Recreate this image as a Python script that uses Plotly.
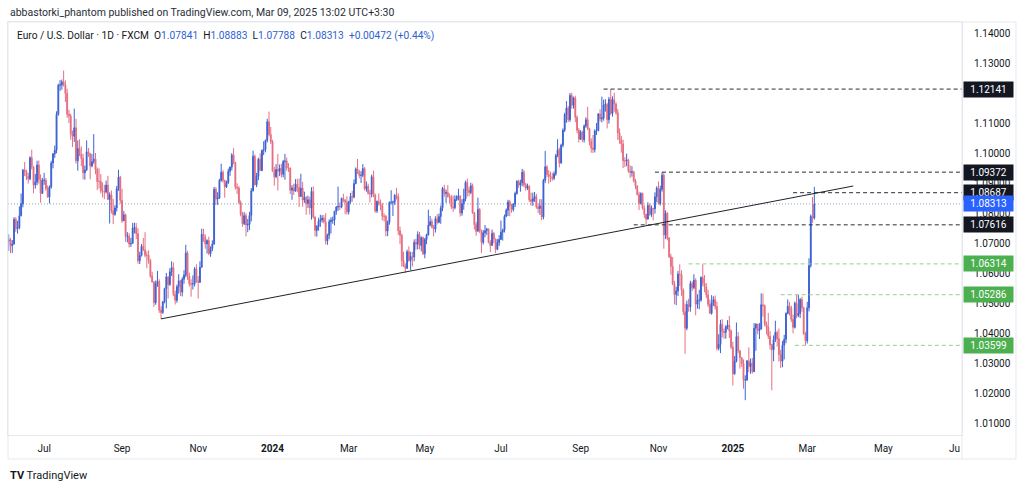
import plotly.graph_objects as go
import pandas as pd

# ---------------- data (EUR/USD daily, FXCM) ----------------
# values in 1/10000 above 1.0000  (e.g. 712 -> 1.0712), one row per trading week
FIRST_OPEN = 708
CLOSE = [
    712, 692, 698, 780, 749,
    752, 792, 832, 944, 939,
    923, 915, 985, 955, 894,
    904, 961, 913, 866, 910,
    910, 883, 854, 888, 968,
    998, 1010, 1130, 1227, 1228,
    1238, 1228, 1200, 1130, 1124,
    1064, 1057, 1085, 975, 1016,
    998, 983, 935, 944, 1005,
    1000, 958, 972, 981, 946,
    906, 906, 874, 873, 871,
    894, 846, 862, 808, 796,
    818, 882, 921, 843, 775,
    795, 723, 724, 698, 700,
    751, 753, 732, 642, 659,
    690, 678, 660, 660, 643,
    591, 571, 502, 565, 573,
    477, 469, 505, 549, 588,
    563, 605, 619, 530, 510,
    555, 575, 537, 580, 594,
    668, 590, 565, 564, 565,
    615, 575, 570, 620, 730,
    720, 698, 709, 666, 683,
    698, 880, 848, 851, 910,
    937, 910, 888, 902, 940,
    954, 994, 970, 887, 884,
    836, 796, 765, 792, 761,
    763, 793, 875, 990, 895,
    923, 980, 943, 1010, 1013,
    1043, 1105, 1063, 1038,
    940, 922, 946, 940,
    950, 930, 972, 974, 951,
    951, 877, 884, 874, 897,
    886, 856, 884, 844, 853,
    833, 845, 818, 873, 788,
    743, 756, 773, 778, 784,
    772, 708, 727, 772, 777,
    778, 807, 821, 823, 821,
    850, 844, 837, 805, 839,
    856, 854, 899, 948, 938,
    926, 927, 949, 882, 890,
    867, 865, 922, 860, 808,
    839, 832, 826, 790, 790,
    741, 770, 836, 837, 837,
    860, 856, 742, 727, 642,
    624, 617, 672, 643, 656,
    654, 703, 697, 729, 693,
    719, 665, 713, 728, 760,
    772, 753, 748, 782, 770,
    789, 817, 883, 866, 869,
    856, 855, 822, 819, 846,
    856, 858, 801, 832, 848,
    903, 877, 869, 892, 801,
    762, 740, 813, 740, 703,
    735, 742, 748, 703, 693,
    733, 714, 680, 702, 713,
    737, 744, 790, 810, 838,
    826, 813, 830, 866, 907,
    894, 902, 937, 895, 884,
    890, 845, 840, 849, 856,
    821, 816, 825, 788, 910,
    955, 930, 923, 920, 917,
    932, 992, 1012, 967, 1027,
    1077, 1129, 1151, 1112, 1193,
    1160, 1184, 1120, 1077, 1047,
    1071, 1045, 1091, 1112, 1082,
    1040, 1017, 1013, 1075, 1075,
    1131, 1115, 1118, 1161, 1163,
    1112, 1180, 1133, 1179, 1164,
    1135, 1068, 1045, 1031, 975,
    975, 978, 941, 936, 938,
    908, 891, 862, 833, 866,
    817, 796, 781, 826, 796,
    816, 815, 855, 884, 833,
    880, 927, 728, 800, 718,
    655, 623, 565, 529, 541,
    597, 596, 544, 472, 417,
    496, 488, 566, 552, 577,
    497, 510, 511, 586, 567,
    554, 528, 496, 467, 502,
    512, 489, 350, 363, 430,
    406, 403, 422, 427,
    408, 354, 265, 307,
    389, 341, 319, 299, 244,
    245, 308, 289, 301, 272,
    417, 431, 409, 414, 495,
    492, 430, 421, 390, 362,
    345, 379, 403, 382, 329,
    307, 360, 380, 466, 490,
    484, 446, 420, 500, 459,
    466, 513, 485, 398, 375,
    485, 626, 790, 784, 831,
]
HIGH = [
    730, 718, 711, 787, 787,
    775, 823, 866, 948, 971,
    945, 935, 990, 1012, 956,
    931, 975, 976, 930, 918,
    935, 918, 893, 893, 975,
    1001, 1026, 1140, 1232, 1244,
    1246, 1276, 1243, 1215, 1145,
    1132, 1076, 1149, 1115, 1043,
    1047, 1023, 998, 959, 1043,
    1018, 1000, 998, 1064, 1001,
    953, 950, 931, 903, 895,
    909, 925, 870, 876, 848,
    827, 891, 945, 925, 882,
    808, 799, 737, 734, 718,
    768, 769, 768, 750, 672,
    698, 718, 737, 673, 677,
    648, 605, 574, 576, 608,
    580, 490, 508, 552, 601,
    590, 617, 640, 636, 542,
    562, 597, 578, 587, 610,
    695, 675, 602, 580, 593,
    621, 630, 591, 640, 749,
    748, 730, 713, 722, 690,
    710, 888, 887, 870, 915,
    965, 944, 912, 909, 949,
    956, 1001, 1017, 970, 900,
    891, 843, 805, 804, 800,
    781, 805, 884, 1009, 996,
    935, 985, 1000, 1012, 1040,
    1046, 1115, 1139, 1088,
    1045, 955, 964, 998,
    963, 965, 978, 998, 986,
    967, 953, 894, 899, 914,
    915, 916, 932, 905, 872,
    857, 859, 855, 887, 890,
    789, 761, 785, 795, 794,
    794, 800, 732, 780, 787,
    789, 808, 824, 889, 836,
    852, 865, 847, 857, 842,
    868, 875, 913, 953, 981,
    945, 941, 964, 954, 906,
    899, 878, 929, 942, 866,
    843, 866, 846, 835, 800,
    794, 776, 840, 877, 842,
    864, 885, 867, 756, 732,
    672, 633, 679, 690, 672,
    671, 713, 715, 740, 738,
    723, 722, 718, 732, 812,
    791, 782, 761, 790, 797,
    799, 826, 888, 895, 879,
    894, 866, 861, 859, 860,
    860, 882, 860, 847, 882,
    909, 916, 889, 902, 899,
    805, 771, 852, 818, 746,
    744, 761, 752, 749, 710,
    746, 738, 716, 714, 727,
    776, 749, 796, 816, 845,
    845, 832, 834, 872, 910,
    912, 912, 948, 945, 902,
    899, 894, 869, 869, 871,
    865, 834, 847, 847, 915,
    1008, 960, 944, 939, 935,
    940, 998, 1047, 1019, 1032,
    1083, 1135, 1174, 1158, 1201,
    1202, 1189, 1192, 1126, 1084,
    1077, 1075, 1096, 1120, 1155,
    1085, 1050, 1061, 1080, 1101,
    1134, 1147, 1189, 1179, 1180,
    1168, 1188, 1214, 1190, 1202,
    1170, 1148, 1083, 1058, 1045,
    987, 999, 982, 960, 957,
    942, 915, 893, 872, 870,
    869, 826, 799, 837, 833,
    826, 819, 870, 890, 906,
    892, 937, 934, 810, 804,
    720, 665, 654, 575, 555,
    608, 630, 610, 550, 499,
    509, 515, 575, 573, 597,
    583, 530, 545, 590, 630,
    594, 567, 545, 513, 527,
    523, 526, 506, 397, 445,
    447, 416, 427, 444,
    458, 413, 372, 324,
    436, 404, 345, 320, 313,
    260, 311, 353, 316, 318,
    434, 433, 431, 434, 533,
    533, 496, 439, 468, 407,
    365, 393, 442, 409, 416,
    345, 375, 395, 470, 513,
    505, 492, 462, 506, 528,
    528, 517, 522, 489, 405,
    505, 650, 796, 854, 888,
]
LOW = [
    675, 667, 668, 695, 738,
    732, 747, 790, 820, 924,
    911, 899, 910, 946, 867,
    882, 894, 899, 835, 866,
    895, 875, 852, 833, 882,
    950, 985, 1000, 1125, 1208,
    1212, 1222, 1171, 1118, 1101,
    1045, 1021, 1038, 966, 942,
    990, 957, 913, 912, 942,
    988, 913, 953, 965, 930,
    877, 883, 866, 853, 847,
    866, 846, 766, 799, 764,
    792, 806, 875, 832, 768,
    774, 705, 703, 686, 688,
    700, 733, 714, 632, 631,
    656, 674, 653, 617, 632,
    585, 569, 488, 495, 555,
    468, 448, 465, 500, 483,
    516, 558, 591, 524, 496,
    502, 532, 524, 523, 565,
    587, 578, 556, 522, 546,
    556, 568, 516, 568, 620,
    705, 682, 666, 660, 655,
    674, 695, 828, 828, 848,
    905, 902, 852, 885, 898,
    925, 943, 963, 879, 864,
    830, 790, 755, 761, 723,
    737, 744, 773, 873, 893,
    887, 910, 941, 940, 994,
    1003, 1036, 1057, 1031,
    939, 892, 917, 876,
    924, 919, 920, 912, 942,
    938, 864, 845, 861, 872,
    870, 821, 855, 822, 835,
    795, 818, 796, 779, 782,
    723, 722, 742, 755, 769,
    766, 696, 695, 714, 733,
    765, 760, 795, 808, 811,
    817, 837, 797, 796, 796,
    832, 838, 850, 897, 931,
    917, 901, 920, 876, 872,
    862, 836, 853, 854, 802,
    801, 826, 810, 776, 773,
    723, 724, 762, 829, 791,
    828, 846, 728, 697, 622,
    621, 601, 614, 638, 610,
    623, 640, 678, 680, 680,
    673, 661, 650, 697, 726,
    757, 750, 723, 736, 763,
    767, 765, 807, 855, 835,
    852, 834, 814, 805, 813,
    841, 843, 789, 792, 812,
    840, 856, 857, 864, 798,
    746, 725, 740, 734, 668,
    696, 720, 728, 700, 671,
    692, 700, 667, 677, 691,
    712, 709, 736, 787, 791,
    790, 802, 806, 821, 862,
    885, 872, 890, 887, 875,
    878, 838, 826, 825, 838,
    815, 801, 795, 777, 780,
    901, 920, 899, 904, 908,
    911, 925, 987, 953, 967,
    1020, 1071, 1102, 1104, 1105,
    1149, 1149, 1104, 1067, 1036,
    1045, 1037, 1036, 1085, 1077,
    1026, 1002, 1001, 1003, 1061,
    1074, 1106, 1103, 1109, 1139,
    1083, 1099, 1128, 1122, 1139,
    1128, 1045, 1032, 1002, 951,
    954, 957, 935, 917, 922,
    903, 880, 860, 811, 829,
    812, 784, 761, 779, 792,
    788, 776, 799, 837, 829,
    826, 872, 682, 714, 710,
    651, 595, 560, 497, 494,
    524, 557, 525, 461, 332,
    410, 472, 472, 541, 547,
    460, 482, 480, 505, 557,
    537, 517, 487, 464, 462,
    491, 479, 343, 343, 334,
    386, 382, 382, 413,
    384, 347, 226, 262,
    303, 333, 282, 288, 215,
    177, 241, 270, 265, 266,
    272, 342, 397, 381, 413,
    456, 423, 396, 381, 346,
    210, 307, 371, 356, 306,
    284, 287, 313, 367, 463,
    459, 437, 400, 416, 450,
    454, 451, 472, 395, 360,
    366, 473, 619, 768, 779,
]
START_DATE = "2023-06-05"
END_DATE = "2025-03-07"
HOLIDAYS = ["2023-12-25", "2024-01-01", "2024-12-25", "2025-01-01"]

# drawn horizontal levels and their labels
LEVELS = [1.12141, 1.09372, 1.08687, 1.07616, 1.06314, 1.05286, 1.03599]
LEVEL_START = ["2024-09-19", "2024-10-30", "2025-02-19", "2024-10-14",
               "2024-11-26", "2025-02-10", "2025-02-20"]
LEVEL_KIND = ["res", "res", "res", "res", "sup", "sup", "sup"]
LAST_PRICE = 1.08313
TREND_X = ["2023-10-03", "2025-04-08"]
TREND_Y = [1.0448, 1.0891]

LEGEND_O, LEGEND_H, LEGEND_L, LEGEND_C = 1.07841, 1.08883, 1.07788, 1.08313
LEGEND_CHG, LEGEND_PCT = 0.00472, 0.44

TICK_DATES = ["2023-07-03", "2023-09-01", "2023-11-01", "2024-01-02", "2024-03-01",
              "2024-05-01", "2024-07-01", "2024-09-02", "2024-11-01", "2025-01-02",
              "2025-03-03", "2025-05-01"]
TICK_TEXT = ["Jul", "Sep", "Nov", "<b>2024</b>", "Mar", "May", "Jul", "Sep", "Nov",
             "<b>2025</b>", "Mar", "May"]
# 1.12000 is hidden behind the 1.12141 label in the original
PRICE_TICKS = [1.01, 1.02, 1.03, 1.04, 1.05, 1.06, 1.07, 1.08, 1.09, 1.10,
               1.11, 1.13, 1.14]

# ---------------- build ----------------
dates = pd.bdate_range(START_DATE, END_DATE)
dates = dates[~dates.isin(pd.to_datetime(HOLIDAYS))]
n = min(len(dates), len(CLOSE), len(HIGH), len(LOW))
if not (len(dates) == len(CLOSE) == len(HIGH) == len(LOW)):
    print("length mismatch", len(dates), len(CLOSE), len(HIGH), len(LOW))
x = [d.strftime("%Y-%m-%d") for d in dates[:n]]
close = [1 + v / 10000 for v in CLOSE[:n]]
high = [1 + v / 10000 for v in HIGH[:n]]
low = [1 + v / 10000 for v in LOW[:n]]
opens = [1 + FIRST_OPEN / 10000] + close[:-1]

FONT = "Roboto, Arial, sans-serif"
TXT = "#131722"
UP_LINE, UP_FILL = "#3d62d3", "#2549c6"
DN_LINE, DN_FILL = "#e66f82", "#df4d63"
X_RANGE = ["2023-06-02 14:00", "2025-07-02 10:00"]
Y_RANGE = [1.0061, 1.14377]

fig = go.Figure()
fig.add_trace(go.Candlestick(
    x=x, open=opens, high=high, low=low, close=close,
    increasing=dict(line=dict(color=UP_LINE, width=1), fillcolor=UP_FILL),
    decreasing=dict(line=dict(color=DN_LINE, width=1), fillcolor=DN_FILL),
    whiskerwidth=0, hoverinfo="skip", showlegend=False,
))

shapes = []
# current price dotted line
shapes.append(dict(type="line", xref="paper", x0=0, x1=1, yref="y",
                   y0=LAST_PRICE, y1=LAST_PRICE,
                   line=dict(color="#8fa3b3", width=1, dash="1px,2px"), layer="below"))
for lvl, st, kind in zip(LEVELS, LEVEL_START, LEVEL_KIND):
    col = "#2a2e39" if kind == "res" else "#8fcf95"
    shapes.append(dict(type="line", xref="x", x0=st, x1=X_RANGE[1], yref="y",
                       y0=lvl, y1=lvl, line=dict(color=col, width=1, dash="4px,3px")))
# trend line
shapes.append(dict(type="line", xref="x", yref="y", x0=TREND_X[0], x1=TREND_X[1],
                   y0=TREND_Y[0], y1=TREND_Y[1], line=dict(color="#1e222d", width=1)))
# widget frame
shapes.append(dict(type="rect", xref="paper", yref="paper", x0=0, x1=1.0566,
                   y0=-0.0581, y1=1.0, line=dict(color="#e6e8ee", width=1)))
shapes.append(dict(type="line", xref="paper", yref="paper", x0=1, x1=1,
                   y0=-0.0581, y1=1.0, line=dict(color="#e6e8ee", width=1)))

annotations = []
box_colors = {"res": "#131722", "sup": "#4caf50"}
for lvl, kind in zip(LEVELS, LEVEL_KIND):
    annotations.append(dict(xref="paper", x=1.001, xanchor="left", yref="y", y=lvl,
                            yanchor="middle", text=f"{lvl:.5f}", showarrow=False,
                            bgcolor=box_colors[kind], width=45, height=11, borderpad=2,
                            align="center", font=dict(family=FONT, size=10, color="white")))
annotations.append(dict(xref="paper", x=1.001, xanchor="left", yref="y", y=LAST_PRICE,
                        yanchor="middle", text=f"{LAST_PRICE:.5f}", showarrow=False,
                        bgcolor="#2962ff", width=45, height=11, borderpad=2,
                        align="center", font=dict(family=FONT, size=10, color="white")))
# header
annotations.append(dict(xref="paper", yref="paper", x=0, y=1.022, xanchor="left",
                        yanchor="middle", showarrow=False,
                        text="abbastorki_phantom published on TradingView.com, Mar 09, 2025 13:02 UTC+3:30",
                        font=dict(family=FONT, size=10.5, color="#2a2e39")))
BLUE = "#2f5fd0"
sp = "\u00a0"
legend_txt = (
    f"Euro / U.S. Dollar · 1D · FXCM{sp}{sp}"
    f"O<span style='color:{BLUE}'>{LEGEND_O:.5f}</span>{sp}{sp}"
    f"H<span style='color:{BLUE}'>{LEGEND_H:.5f}</span>{sp}{sp}"
    f"L<span style='color:{BLUE}'>{LEGEND_L:.5f}</span>{sp}{sp}"
    f"C<span style='color:{BLUE}'>{LEGEND_C:.5f}</span>{sp}{sp}"
    f"<span style='color:{BLUE}'>+{LEGEND_CHG:.5f} (+{LEGEND_PCT:.2f}%)</span>"
)
annotations.append(dict(xref="paper", yref="paper", x=0.0075, y=0.966, xanchor="left",
                        yanchor="middle", showarrow=False, text=legend_txt,
                        font=dict(family=FONT, size=10.2, color=TXT)))
# clipped July label at the right edge of the time scale
annotations.append(dict(xref="paper", yref="paper", x=1.0, y=-0.0315, xanchor="right",
                        yanchor="middle", showarrow=False, text="Ju",
                        font=dict(family=FONT, size=10, color=TXT)))
# footer logo
annotations.append(dict(xref="paper", yref="paper", x=0.0, y=-0.097, xanchor="left",
                        yanchor="middle", showarrow=False,
                        text="<b>TV</b> TradingView",
                        font=dict(family=FONT, size=11, color="#131722")))

fig.update_layout(
    width=1024, height=490,
    margin=dict(l=8, r=62, t=22, b=55),
    paper_bgcolor="white", plot_bgcolor="white",
    showlegend=False, hovermode=False,
    shapes=shapes, annotations=annotations,
    xaxis=dict(
        type="date", range=X_RANGE,
        rangebreaks=[dict(bounds=["sat", "mon"]), dict(values=HOLIDAYS)],
        tickmode="array", tickvals=TICK_DATES, ticktext=TICK_TEXT,
        showgrid=False, zeroline=False, ticks="",
        showline=True, linecolor="#e6e8ee", mirror=True,
        tickfont=dict(family=FONT, size=10, color=TXT),
        rangeslider=dict(visible=False), ticklabelstandoff=4,
    ),
    yaxis=dict(
        side="right", range=Y_RANGE, tickmode="array", tickvals=PRICE_TICKS,
        tickformat=".5f", showgrid=False, zeroline=False, ticks="",
        showline=True, linecolor="#e6e8ee", mirror=True,
        tickfont=dict(family=FONT, size=10, color=TXT), ticklabelstandoff=9,
    ),
)

fig.write_html(
    "out.html",
    config={"displayModeBar": False, "staticPlot": True},
    post_script="document.body.style.margin='0px';document.body.style.padding='0px';",
)
